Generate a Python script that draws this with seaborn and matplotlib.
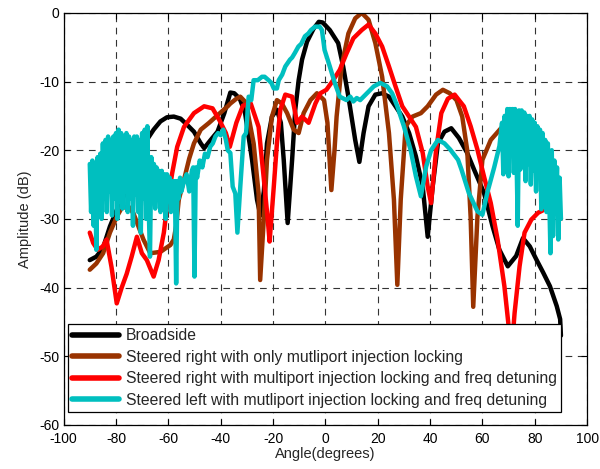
import numpy as np
import pandas as pd
import matplotlib
matplotlib.use("Agg")
import matplotlib.pyplot as plt
import seaborn as sns

# --- data (angle in degrees, amplitude in dB) ---
broadside_x = [-90, -87.5, -85, -82.3, -79.7, -76.5, -74, -70.7, -68.2, -65.6, -63, -60.5, -57.9,
               -55.3, -52.8, -50.2, -47.6, -46.3, -43.8, -41.2, -38.6, -36.3, -34.8, -32.7, -30.7,
               -28, -26.1, -24.8, -23.5, -22.3, -20.4, -18.5, -17, -15.9, -14.4, -12.7, -11.5,
               -10.2, -8.9, -7, -4.5, -2.5, -1, 1.7, 4.9, 6.8, 8.8, 11.4, 13, 14.6, 16.5, 19.1,
               21.7, 24.3, 26.8, 29.4, 32, 34.6, 37.2, 39.1, 41, 43, 45.5, 48.1, 51, 54.2, 56.8,
               60.6, 63.9, 66.5, 69.7, 72.9, 75.5, 78.1, 80.6, 83.2, 85.8, 88.4, 89.7, 90]
broadside_y = [-36, -35.5, -34.3, -31.1, -28.7, -26.3, -24.3, -21.4, -18.5, -17, -15.8, -15.2, -15.1,
               -15.4, -16.3, -17.3, -19, -19.7, -18.5, -17.3, -14.6, -11.6, -11.7, -12.5, -14.5,
               -21.4, -27.2, -29.5, -26, -19, -15.1, -14.1, -16, -21.4, -30.6, -21.4, -14.1,
               -9.8, -6.8, -4.2, -2.3, -1.3, -1.4, -2.5, -4.4, -7.8, -12.2, -18.5, -21.7, -17.5,
               -13.6, -11.9, -11.7, -12.2, -13.6, -15.1, -17.5, -20.9, -25.3, -32.6, -25.3, -19,
               -17.3, -16.8, -18.2, -20.4, -22.8, -26.2, -31.1, -34.5, -36.9, -35.4, -32.8, -34,
               -35.9, -37.8, -39.8, -42.7, -44.6, -47]

only_mil_x = [-90, -87.5, -84.9, -82.3, -79.7, -77.8, -75.2, -73.3, -71.5, -69.5, -66.9, -63, -59.2,
              -57.9, -57, -56, -54, -52, -50.2, -47.6, -44.4, -41.2, -37.3, -36.3, -34, -32.5, -30,
              -29.4, -27.4, -25.5, -24.9, -23.2, -22.3, -20.4, -18.5, -16.6, -14.6, -12.1, -10.2,
              -8.3, -5.7, -3.2, -0.5, 0.8, 2.3, 3.5, 4.3, 6.2, 8.8, 11.4, 13.9, 16.5, 19.1, 21.7,
              24.3, 26.2, 27.5, 28.8, 30.7, 33.3, 36.5, 39.1, 42.3, 44.9, 47.5, 50.1, 52.3, 54.2,
              55.5, 56.5, 58.1, 60, 63.2, 65.5, 67.1]
only_mil_y = [-37.4, -36.5, -35, -32, -29.7, -28.4, -28.2, -29.2, -31, -33, -35, -34.8, -33.8,
              -33, -31, -27.2, -24.3, -21.2, -19, -17, -16, -14.9, -13.6, -13.2, -12.5, -12.2, -13.2,
              -15, -19, -26.3, -38.9, -28, -21.4, -15.1, -12.7, -13.2, -14.6, -17, -17.5,
              -14.6, -12.7, -11.7, -12.7, -16, -25.8, -20, -15.1, -7.8, -3, -0.8, 0, -1, -4.4, -9.3,
              -17.5, -27.2, -39.6, -27.2, -16.5, -15.1, -14.6, -13.6, -11.9, -11.2, -11.7, -12.7,
              -15.1, -20, -29.7, -42.8, -29.7, -21.4, -18.5, -17.5, -16.8]

right_detune_x = [-90, -88.7, -87, -85, -83.6, -81.7, -79.7, -77.8, -75.9, -74, -72, -70.1, -68.2,
                  -65.6, -63.7, -61.7, -60.5, -58.5, -56.6, -54, -50.2, -46.3, -43.1, -40.5, -38,
                  -36.5, -34, -31.5, -28.5, -25.5, -23.6, -22, -21.3, -19.7, -18.5, -17.2, -15.3,
                  -12.7, -10.8, -8.9, -6.4, -3.8, -1.9, 0.4, 3, 5.5, 8.1, 10.7, 13.9, 16.5, 19.1,
                  21.7, 24.3, 26.8, 29.4, 32, 34.6, 37.2, 39.1, 40.4, 42.3, 44.3, 46.8, 49.4, 52.9,
                  55.5, 58.1, 60.6, 63.2, 65.8, 68.4, 70.3, 71, 72.3, 74.2, 76.1, 78.7, 81.3, 83.9,
                  85.2, 86.5, 87.5, 89, 90]
right_detune_y = [-32, -33.5, -34.5, -34, -33, -37, -42.3, -40, -38, -35.5, -32.6, -35, -36,
                  -38.4, -36, -32, -28.2, -23.3, -19.5, -16.6, -14.6, -13.6, -13.9, -15.6, -17.5,
                  -19.5, -16, -13.5, -13.2, -16.6, -23.8, -30.1, -33.3, -25.3, -19, -14.1, -11.9,
                  -12.2, -16, -15.1, -16, -13.2, -11.7, -11.2, -9.8, -8.3, -5.9, -3.7, -2.5, -1.7, -3,
                  -4.9, -7.8, -10.7, -13.6, -15.1, -16.6, -20.4, -25.3, -27.7, -20, -14.6, -12.5,
                  -11.9, -13.6, -16.5, -19.9, -23.8, -27.7, -33, -39.8, -46.6, -50, -43.7, -36.9, -32,
                  -30.1, -29.1, -28.6, -28.4, -30, -28.5, -29.5, -30]

left_detune_x = [-90, -89.5, -89, -88.5, -88, -87.5, -87, -86.5, -86, -85.5, -85, -84.5, -84, -83.5,
                 -83, -82.5, -82, -81.5, -81, -80.5, -80, -79.5, -79, -78.5, -78, -77.5, -77, -76.5,
                 -76, -75.5, -75, -74.5, -74, -73.5, -73, -72.5, -72, -71.5, -71, -70.5, -70, -69.5,
                 -69, -68.5, -68, -67.5, -67, -66.5, -66, -65.5, -65, -64.5, -64, -63.5, -63, -62.5,
                 -62, -61.5, -61, -60.5, -60, -59.5, -59, -58.5, -58, -57.5, -57, -56.5, -56, -55.5,
                 -55, -54, -53, -52, -51, -50.5, -50, -49.5, -49, -48, -47, -46, -45, -44, -43, -42,
                 -41, -40, -39, -38, -37.3, -36.3, -35.4, -34.4, -33.6, -32.5, -31.2, -30.3, -29.3,
                 -28.3, -27.4, -25.8, -24.2, -23.2, -21.7, -20.6, -19.7, -18.5, -17.8, -16.5, -15.3,
                 -14.2, -13.5, -12.7, -11.6, -10.3, -9.2, -7.8, -6.5, -5.5, -3.9, -2.2, -1.3, -0.3,
                 1.7, 3.6, 5.5, 8.1, 9.5, 10.7, 12, 13.3, 15.9, 18.5, 21, 23.6, 25.5, 27.5, 30, 32.6,
                 34.6, 36.5, 38.5, 40.4, 43, 45.5, 47.7, 50.7, 52, 54.8, 58.1, 60, 62, 64.5, 66.5,
                 67.5, 68, 68.5, 69, 69.5, 70, 70.5, 71, 71.5, 72, 72.5, 73, 73.5, 74, 74.5, 75, 75.5,
                 76, 76.5, 77, 77.5, 78, 78.5, 79, 79.5, 80, 80.5, 81, 81.5, 82, 82.5, 83, 83.5, 84,
                 84.5, 85, 85.5, 86, 86.5, 87, 87.5, 88, 88.5, 89, 89.5, 90]
left_detune_y = [-22, -29, -21.5, -31, -22, -34.5, -21, -28, -20.5, -30, -19, -27, -18.5, -29,
                 -18, -26, -18.5, -29.5, -18, -27, -17.5, -30, -17, -27.5, -17.5, -28.5, -18, -26,
                 -17.5, -29, -18, -27, -18.5, -31, -18, -26.5, -18, -29, -18.5, -32, -17.5, -27,
                 -17, -30, -16.5, -28, -35.5, -21, -27, -22, -28.5, -22.5, -26, -23, -29, -23,
                 -26.5, -23.5, -30, -23.5, -27, -24, -29, -24.5, -27, -24.5, -39.4, -24.5, -27, -24,
                 -26, -24.5, -23.5, -26, -23, -22.5, -38.4, -22.5, -24, -21.5, -22.5, -20.5, -21, -19.5,
                 -19, -18, -17.5, -17.8, -17, -18.5, -20, -20.4, -25.3, -26.3, -32, -25.3, -18, -17.5,
                 -12.2, -12.7, -9.8, -9.8, -9.3, -9.3, -9.8, -10.2, -11, -11, -9.8, -9, -7.8, -7.2,
                 -6.8, -6.5, -5.8, -4.9, -4.5, -3.4, -3, -2.5, -2, -2, -2.5, -5.4, -7.8, -10.2,
                 -12.2, -12.7, -12.2, -12.9, -12.4, -12.7, -11.7, -10.7, -10.2, -10.7, -11.7, -13.6,
                 -16.5, -20, -23.8, -26.7, -22.4, -20, -18.5, -19, -19.9, -21.4, -22.8, -26.2, -28.9,
                 -29.4, -26, -22.5, -19.4, -16, -23.5, -15, -20, -14, -23.8, -14, -19, -14, -23.3,
                 -14, -20, -31, -14.2, -22.8, -14.2, -21, -14.5, -24.5, -15, -22, -15, -25, -15.5, -23,
                 -16, -26, -16.5, -24, -17, -28.6, -17.5, -25, -18.5, -29, -19, -26, -35, -20, -32.5,
                 -21.5, -28, -22.5, -33, -24, -30]

series_names = ["Broadside",
                "Steered right with only mutliport injection locking",
                "Steered right with multiport injection locking and freq detuning",
                "Steered left with mutliport injection locking and freq detuning"]
series_colors = ["#000000", "#993300", "#FF0000", "#00BFBF"]

x_ticks = list(range(-100, 101, 20))
y_ticks = list(range(-60, 1, 10))

sns.set_theme(style="white")
plt.rcParams["font.family"] = ["Liberation Sans", "DejaVu Sans"]

fig = plt.figure(figsize=(6, 4.69), dpi=100)
ax = fig.add_axes([0.106, 0.094, 0.8725, 0.8785])

all_x = [broadside_x, only_mil_x, right_detune_x, left_detune_x]
all_y = [broadside_y, only_mil_y, right_detune_y, left_detune_y]
for xs, ys, name, col in zip(all_x, all_y, series_names, series_colors):
    df = pd.DataFrame({"angle": xs, "amp": ys})
    sns.lineplot(data=df, x="angle", y="amp", sort=False, estimator=None, ax=ax,
                 color=col, linewidth=3.2, label=name, solid_joinstyle="round")

ax.set_xlim(-100, 100)
ax.set_ylim(-60, 0)
ax.set_xticks(x_ticks)
ax.set_yticks(y_ticks)
ax.set_xticklabels([str(t) for t in x_ticks], fontsize=10)
ax.set_yticklabels([str(t) for t in y_ticks], fontsize=10)
ax.set_xlabel("Angle(degrees)", fontsize=10.5, labelpad=1)
ax.set_ylabel("Amplitude (dB)", fontsize=10.5, labelpad=5)

ax.grid(True, color="#333333", linestyle=(0, (6, 5)), linewidth=0.8)
ax.set_axisbelow(True)
ax.tick_params(direction="in", length=4, width=0.8, top=True, right=True,
               bottom=True, left=True, colors="black")
ax.tick_params(axis="x", pad=5)
ax.tick_params(axis="y", pad=3)
for s in ax.spines.values():
    s.set_color("black")
    s.set_linewidth(0.9)

leg = ax.legend(loc="lower left", bbox_to_anchor=(0.0086, 0.0316), fontsize=11.3,
                frameon=True, fancybox=False, framealpha=1, edgecolor="black",
                handlelength=3.0, handletextpad=0.45, labelspacing=0.42,
                borderpad=0.25, borderaxespad=0)
leg.get_frame().set_linewidth(0.9)
for line in leg.get_lines():
    line.set_linewidth(4)

fig.savefig("out.png", dpi=100)
